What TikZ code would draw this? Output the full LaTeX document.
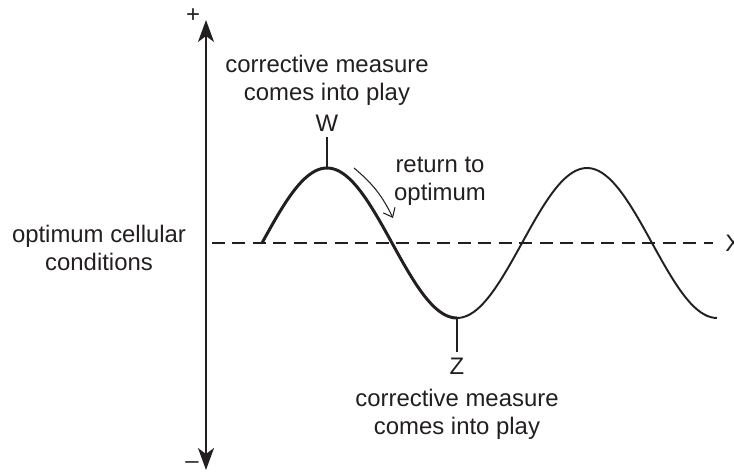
\documentclass[tikz,border=0pt]{standalone}
\usepackage{fontspec}
\setmainfont{Liberation Sans}
\usepackage{tikz}
\usetikzlibrary{arrows.meta,positioning}
\definecolor{tinta}{HTML}{231F20}

\begin{document}
\begin{tikzpicture}[
  x=0.02cm, y=-0.02cm,
  font=\fontsize{13.6}{15.8}\selectfont,
  label/.style={align=center, inner sep=0pt, text=tinta},
  axis/.style={-{Stealth[length=4.4mm, width=3.2mm, inset=1.2mm]}, line width=1.1pt, draw=tinta},
  level/.style={dash pattern=on 0.26cm off 0.15cm, line width=0.6pt, draw=tinta},
  wave/.style={line width=1.1pt, draw=tinta},
  tick/.style={line width=0.6pt, draw=tinta},
  arrow/.style={-{Straight Barb[length=1.6mm, width=2.6mm]}, line width=0.6pt, draw=tinta}
]
\useasboundingbox (0,0) rectangle (734,472);
% axes
\coordinate (origin) at (206,243);
\coordinate (top) at (206,20);
\coordinate (bottom) at (206,470);
\draw[axis] (origin) -- (top);
\draw[axis] (origin) -- (bottom);
\node[label] (plus) at (193,16) {+};
\node[label] (minus) at (192,465) {--};
\coordinate (lstart) at (212,243);
\coordinate (lend) at (713,243);
\draw[level] (lstart) -- (lend);
\node[label, anchor=west] (xlab) at (725,243) {X};
\node[label] (optimum) at (99,248) {optimum cellular\\conditions};
% wave
\draw[wave, line width=1.7pt] plot[domain=262:457, samples=80, smooth] (\x, {243-75*sin((\x-262)/260*360)});
\draw[wave] plot[domain=457:717, samples=80, smooth] (\x, {243-75*sin((\x-262)/260*360)});
\coordinate (peak) at (327,168);
\coordinate (trough) at (457,318);
% labels
\node[label] (w) at (327,123) {W};
\draw[tick] ([yshift=-3pt]w.south) -- (peak);
\node[label] (topnote) at (327,80) {corrective measure\\comes into play};
\node[label] (z) at (457,366) {Z};
\draw[tick] (trough) -- ([yshift=3pt]z.north);
\node[label] (botnote) at (457,414) {corrective measure\\comes into play};
\node[label] (ret) at (440,181) {return to\\optimum};
\coordinate (rstart) at (354,168);
\coordinate (rend) at (393,218);
\draw[arrow] (rstart) to[bend left=12] (rend);
\end{tikzpicture}
\end{document}
